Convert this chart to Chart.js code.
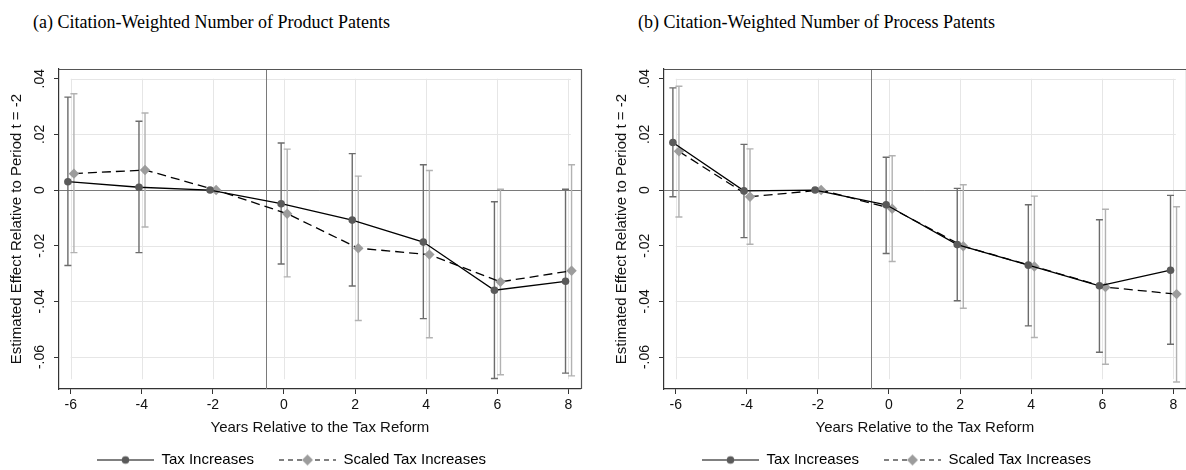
<!DOCTYPE html>
<html><head><meta charset="utf-8">
<script src="https://cdn.jsdelivr.net/npm/chart.js@4/dist/chart.umd.min.js"></script>
<style>
html,body{margin:0;padding:0;background:#fff;overflow:hidden;width:1186px;height:470px;position:relative;}
.title{position:absolute;top:13px;font-family:"Liberation Serif","Times New Roman",serif;font-size:18px;line-height:18px;color:#000;white-space:nowrap;}
.wrap{position:absolute;top:0;width:586px;height:477px;}
</style></head><body>
<div class="title" style="left:33px">(a) Citation-Weighted Number of Product Patents</div>
<div class="title" style="left:638px">(b) Citation-Weighted Number of Process Patents</div>
<div class="wrap" style="left:0"><canvas id="c1" width="586" height="477"></canvas></div>
<div class="wrap" style="left:605px"><canvas id="c2" width="586" height="477"></canvas></div>
<script>
// ---- data ----
const years = [-6, -4, -2, 0, 2, 4, 6, 8];
const xTickValues = [-6, -4, -2, 0, 2, 4, 6, 8];
const xTickLabels = ['-6', '-4', '-2', '0', '2', '4', '6', '8'];
const yTickValues = [-0.06, -0.04, -0.02, 0, 0.02, 0.04];
const yTickLabels = ['-.06', '-.04', '-.02', '0', '.02', '.04'];
const reformLine = -0.5;
const seriesNames = ['Tax Increases', 'Scaled Tax Increases'];

// (a) product patents
const productTax      = [0.0030, 0.0010, 0, -0.0049, -0.0108, -0.0187, -0.0360, -0.0328];
const productTaxLo    = [-0.0271, -0.0225, null, -0.0266, -0.0345, -0.0462, -0.0677, -0.0658];
const productTaxHi    = [0.0334, 0.0247, null, 0.0169, 0.0131, 0.0091, -0.0042, 0.0003];
const productScaled   = [0.0059, 0.0072, 0, -0.0085, -0.0209, -0.0232, -0.0330, -0.0290];
const productScaledLo = [-0.0225, -0.0133, null, -0.0312, -0.0469, -0.0531, -0.0664, -0.0668];
const productScaledHi = [0.0346, 0.0277, null, 0.0147, 0.0050, 0.0070, 0.0003, 0.0091];

// (b) process patents
const processTax      = [0.0171, -0.0003, 0, -0.0053, -0.0196, -0.0270, -0.0344, -0.0288];
const processTaxLo    = [-0.0024, -0.0171, null, -0.0228, -0.0398, -0.0488, -0.0583, -0.0554];
const processTaxHi    = [0.0367, 0.0164, null, 0.0118, 0.0006, -0.0053, -0.0107, -0.0019];
const processScaled   = [0.0139, -0.0024, 0, -0.0067, -0.0202, -0.0275, -0.0349, -0.0374];
const processScaledLo = [-0.0097, -0.0195, null, -0.0257, -0.0425, -0.0530, -0.0626, -0.0690];
const processScaledHi = [0.0373, 0.0148, null, 0.0123, 0.0019, -0.0022, -0.0069, -0.0060];

// ---- style ----
const SANS = '"Liberation Sans", Arial, sans-serif';
const OFF_A = -0.08, OFF_B = 0.09;
const DARK = '#5a5a5a', LIGHT = '#9c9c9c';
const CI_DARK = '#6c6c6c', CI_LIGHT = '#b2b2b2';

function legendIcon(kind) {
  const c = document.createElement('canvas');
  c.width = 57; c.height = 14;
  const g = c.getContext('2d');
  g.strokeStyle = '#000'; g.lineWidth = 1.2;
  if (kind === 'dash') g.setLineDash([5, 4]);
  g.beginPath(); g.moveTo(0, 7.5); g.lineTo(57, 7.5); g.stroke();
  g.setLineDash([]);
  if (kind === 'dash') {
    g.fillStyle = LIGHT;
    g.beginPath(); g.moveTo(28.5, 2); g.lineTo(34, 7.5); g.lineTo(28.5, 13); g.lineTo(23, 7.5); g.closePath(); g.fill();
  } else {
    g.fillStyle = DARK;
    g.beginPath(); g.arc(28.5, 7.5, 3.8, 0, Math.PI * 2); g.fill();
  }
  return c;
}

const decor = {
  id: 'decor',
  beforeDatasetsDraw(chart, args, opts) {
    const {ctx, chartArea: a, scales: {x, y}} = chart;
    const r = v => Math.round(v) + 0.5;
    ctx.save();
    ctx.lineWidth = 1;
    // grid lines
    ctx.strokeStyle = '#e6e6e6';
    const gx0 = x.getPixelForValue(xTickValues[0]);
    const gx1 = x.getPixelForValue(xTickValues[xTickValues.length - 1] + 0.07);
    yTickValues.forEach(v => {
      if (v === 0) return;
      const py = r(y.getPixelForValue(v));
      ctx.beginPath(); ctx.moveTo(gx0, py); ctx.lineTo(gx1, py); ctx.stroke();
    });
    const gy0 = y.getPixelForValue(yTickValues[yTickValues.length - 1]);
    const gy1 = y.getPixelForValue(-0.068);
    xTickValues.forEach(v => {
      const px = r(x.getPixelForValue(v));
      ctx.beginPath(); ctx.moveTo(px, gy0); ctx.lineTo(px, gy1); ctx.stroke();
    });
    // zero line and reform line
    ctx.strokeStyle = '#7a7a7a';
    const y0 = r(y.getPixelForValue(0));
    ctx.beginPath(); ctx.moveTo(a.left, y0); ctx.lineTo(a.right, y0); ctx.stroke();
    const xr = r(x.getPixelForValue(reformLine));
    ctx.beginPath(); ctx.moveTo(xr, a.top); ctx.lineTo(xr, a.bottom); ctx.stroke();
    // frame (top, right)
    ctx.strokeStyle = '#555';
    ctx.lineWidth = 1.2;
    ctx.beginPath();
    ctx.moveTo(a.left, r(a.top)); ctx.lineTo(r(a.right), r(a.top)); ctx.lineTo(r(a.right), a.bottom);
    ctx.stroke();
    // error bars
    ctx.lineWidth = 1.4;
    opts.bars.forEach(b => {
      ctx.strokeStyle = b.color;
      years.forEach((yr, i) => {
        if (b.lo[i] == null || b.hi[i] == null) return;
        const px = x.getPixelForValue(yr + b.off);
        const pl = y.getPixelForValue(b.lo[i]);
        const ph = y.getPixelForValue(b.hi[i]);
        ctx.beginPath();
        ctx.moveTo(px, pl); ctx.lineTo(px, ph);
        ctx.moveTo(px - 3.5, ph); ctx.lineTo(px + 3.5, ph);
        ctx.moveTo(px - 3.5, pl); ctx.lineTo(px + 3.5, pl);
        ctx.stroke();
      });
    });
    ctx.restore();
  }
};

function makeChart(id, tax, taxLo, taxHi, scaled, scaledLo, scaledHi) {
  const iconSolid = legendIcon('solid');
  const iconDash = legendIcon('dash');
  return new Chart(document.getElementById(id), {
    type: 'line',
    data: {
      datasets: [
        {
          label: seriesNames[0],
          data: years.map((yr, i) => ({x: yr + OFF_A, y: tax[i]})),
          borderColor: '#000', borderWidth: 1.3,
          pointStyle: 'circle', pointRadius: 3.8, pointBackgroundColor: DARK, pointBorderWidth: 0,
          fill: false, tension: 0
        },
        {
          label: seriesNames[1],
          data: years.map((yr, i) => ({x: yr + OFF_B, y: scaled[i]})),
          borderColor: '#000', borderWidth: 1.3, borderDash: [9, 5],
          pointStyle: 'rectRot', pointRadius: 5.2, pointBackgroundColor: LIGHT, pointBorderWidth: 0,
          fill: false, tension: 0
        }
      ]
    },
    options: {
      responsive: false,
      animation: false,
      devicePixelRatio: 1,
      layout: {padding: {top: 69, right: 3, bottom: 0, left: 0}},
      plugins: {
        tooltip: {enabled: false},
        title: {display: false},
        legend: {
          display: true,
          position: 'bottom',
          labels: {
            usePointStyle: true,
            pointStyleWidth: 57,
            padding: 25,
            color: '#111',
            font: {family: SANS, size: 15},
            generateLabels: () => [
              {text: seriesNames[0], pointStyle: iconSolid, datasetIndex: 0, hidden: false, fillStyle: DARK, strokeStyle: '#000', lineWidth: 0},
              {text: seriesNames[1], pointStyle: iconDash, datasetIndex: 1, hidden: false, fillStyle: LIGHT, strokeStyle: '#000', lineWidth: 0}
            ]
          }
        },
        decor: {
          bars: [
            {off: OFF_A, lo: taxLo, hi: taxHi, color: CI_DARK},
            {off: OFF_B, lo: scaledLo, hi: scaledHi, color: CI_LIGHT}
          ]
        }
      },
      scales: {
        x: {
          type: 'linear',
          min: -6.33, max: 8.35,
          afterBuildTicks: s => { s.ticks = xTickValues.map(v => ({value: v})); },
          afterFit: s => { s.height = 38; },
          ticks: {
            autoSkip: false, maxRotation: 0, padding: 3, color: '#111',
            font: {family: SANS, size: 14},
            callback: (v, i) => xTickLabels[i]
          },
          grid: {display: true, drawOnChartArea: false, drawTicks: true, tickLength: 5, tickColor: '#333', tickWidth: 1},
          border: {display: true, color: '#333', width: 1.2},
          title: {display: true, text: 'Years Relative to the Tax Reform', color: '#111', font: {family: SANS, size: 15}, padding: {top: 0, bottom: -10}}
        },
        y: {
          type: 'linear',
          min: -0.0715, max: 0.0435,
          afterBuildTicks: s => { s.ticks = yTickValues.map(v => ({value: v})); },
          afterFit: s => { s.width = 59; },
          ticks: {
            minRotation: 90, maxRotation: 90, crossAlign: 'center', padding: 2, color: '#111',
            font: {family: SANS, size: 14},
            callback: (v, i) => yTickLabels[i]
          },
          grid: {display: true, drawOnChartArea: false, drawTicks: true, tickLength: 5, tickColor: '#333', tickWidth: 1},
          border: {display: true, color: '#333', width: 1.2},
          title: {display: true, text: 'Estimated Effect Relative to Period t = -2', color: '#111', font: {family: SANS, size: 15}, padding: {top: 8, bottom: 0}}
        }
      }
    },
    plugins: [decor]
  });
}

makeChart('c1', productTax, productTaxLo, productTaxHi, productScaled, productScaledLo, productScaledHi);
makeChart('c2', processTax, processTaxLo, processTaxHi, processScaled, processScaledLo, processScaledHi);
</script>
</body></html>
